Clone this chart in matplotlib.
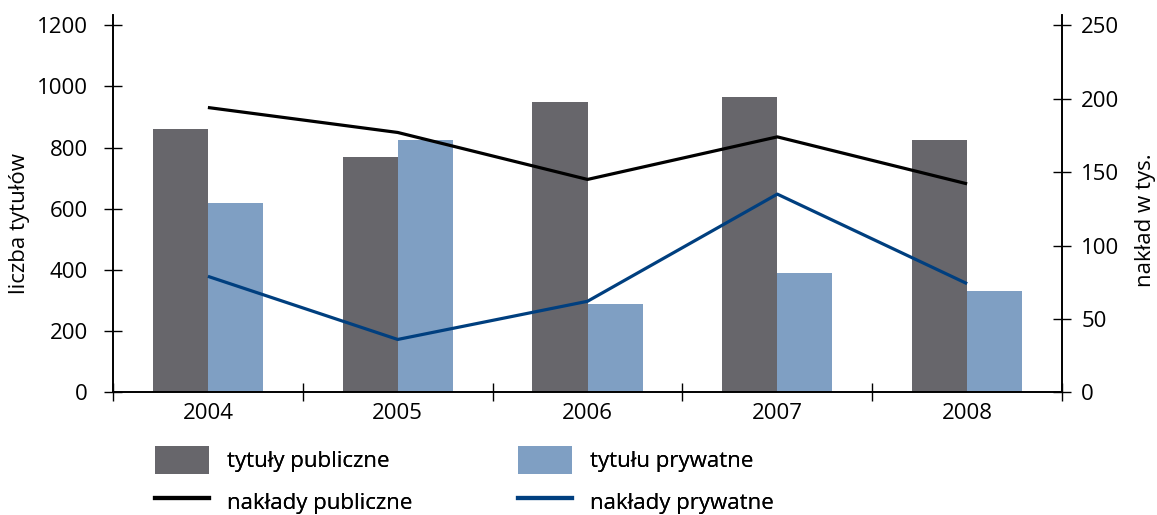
import matplotlib
matplotlib.use("Agg")
import matplotlib.pyplot as plt
from matplotlib.patches import Patch
from matplotlib.lines import Line2D
import numpy as np

plt.rcParams['font.family'] = ['Open Sans', 'DejaVu Sans']

years = ["2004", "2005", "2006", "2007", "2008"]
titles_public = [860, 770, 950, 965, 825]
titles_private = [620, 825, 290, 390, 330]
circ_public = [194, 177, 145, 174, 142]
circ_private = [79, 36, 62, 135, 74]

c_gray = "#67666b"
c_lblue = "#7f9fc3"
c_dblue = "#003f7f"
fs = 16

W, H = 1157, 515
fig = plt.figure(figsize=(W / 100, H / 100), dpi=100)
ax = fig.add_axes([113 / W, (H - 392.3) / H, (1062 - 113) / W, (392.3 - 14.6) / H])
ax2 = ax.twinx()

x = np.arange(len(years))
w = 0.29
ax.bar(x - w / 2, titles_public, width=w, color=c_gray, zorder=2)
ax.bar(x + w / 2, titles_private, width=w, color=c_lblue, zorder=2)
ax2.plot(x, circ_public, color="black", lw=2.3, solid_capstyle="butt")
ax2.plot(x, circ_private, color=c_dblue, lw=2.3, solid_capstyle="butt")

ax.set_xlim(-0.5, len(years) - 0.5)
ax.set_ylim(0, 1235)
ax2.set_ylim(0, 1235 * 250 / 1200)

ax.set_yticks(range(0, 1201, 200))
ax2.set_yticks(range(0, 251, 50))
ax.set_xticks(x)
ax.set_xticklabels(years)
ax.set_xticks(np.arange(-0.5, len(years), 1.0), minor=True)

for a in (ax, ax2):
    a.spines["top"].set_visible(False)
    for s in ("left", "right", "bottom"):
        a.spines[s].set_linewidth(1.2)
        a.spines[s].set_color("black")

tl = 18.7 * 0.72
ax.tick_params(axis="y", direction="inout", length=tl, width=1.0, labelsize=fs, pad=11.5, colors="black")
ax2.tick_params(axis="y", direction="inout", length=tl, width=1.0, labelsize=fs, pad=7.2, colors="black")
ax.tick_params(axis="x", which="major", length=0, labelsize=fs, pad=8)
ax.tick_params(axis="x", which="minor", direction="inout", length=tl, width=1.0)

ax.set_ylabel("liczba tytułów", fontsize=fs)
ax2.set_ylabel("nakład w tys.", fontsize=fs, rotation=90)
axw = 1062 - 113
axh = 392.3 - 14.6
ax.yaxis.set_label_coords((20 - 113) / axw, (392.3 - 223) / axh)
ax2.yaxis.set_label_coords((1146 - 113) / axw, (392.3 - 220) / axh)
ax.yaxis.label.set_va("center")
ax2.yaxis.label.set_va("center")

fspx = fs * 100 / 72
hh = (28.6 / fspx - 0.245) / 0.65
entries = [
    (Patch(facecolor=c_gray, edgecolor="none"), "tytuły publiczne", 155, 460),
    (Line2D([], [], color="black", lw=3), "nakłady publiczne", 155, 502),
    (Patch(facecolor=c_lblue, edgecolor="none"), "tytułu prywatne", 518, 460),
    (Line2D([], [], color=c_dblue, lw=3), "nakłady prywatne", 518, 502),
]
for h, lab, px, py in entries:
    lg = fig.legend([h], [lab], loc="center left",
                    bbox_to_anchor=(px / W, 1 - py / H), frameon=False, fontsize=fs,
                    handlelength=54 / fspx, handleheight=hh, handletextpad=18 / fspx,
                    borderpad=0, borderaxespad=0)
    fig.add_artist(lg)

fig.savefig("out.png", dpi=100)
